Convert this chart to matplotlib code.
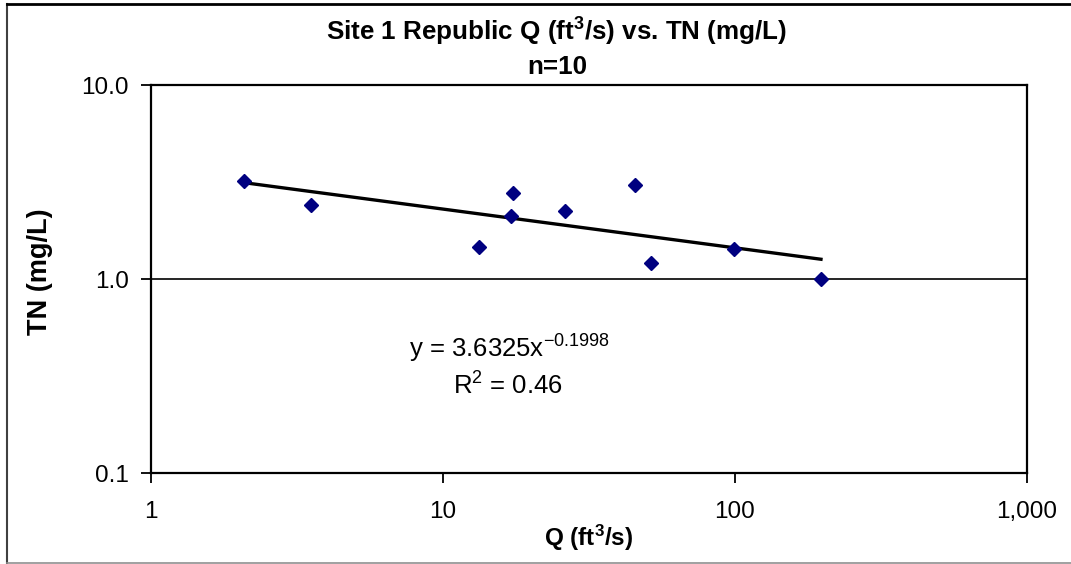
import numpy as np
import matplotlib
matplotlib.use("Agg")
import matplotlib.pyplot as plt
from matplotlib.lines import Line2D
from matplotlib.ticker import FixedLocator, FixedFormatter, NullLocator

plt.rcParams['font.family'] = ['Liberation Sans', 'DejaVu Sans']
plt.rcParams['mathtext.fontset'] = 'custom'
plt.rcParams['mathtext.rm'] = 'Liberation Sans'
plt.rcParams['mathtext.it'] = 'Liberation Sans'
plt.rcParams['mathtext.bf'] = 'Liberation Sans:bold'

# Data
q_cfs = [2.08, 3.52, 13.3, 17.3, 17.1, 26.2, 45.5, 51.6, 99.5, 197.0]
tn_mgl = [3.21, 2.40, 1.46, 2.77, 2.12, 2.24, 3.05, 1.21, 1.43, 1.00]

# Power trendline shown on chart
coef_a = 3.6325
coef_b = -0.1998
r_squared = 0.46

x_ticks = [1, 10, 100, 1000]
x_tick_labels = ["1", "10", "100", "1,000"]
y_ticks = [0.1, 1.0, 10.0]
y_tick_labels = ["0.1", "1.0", "10.0"]

W, H = 1071, 564
fig = plt.figure(figsize=(W / 100, H / 100), dpi=100)
ax_l, ax_r, ax_t, ax_b = 151, 1027, 85, 473
ax = fig.add_axes([ax_l / W, 1 - ax_b / H, (ax_r - ax_l) / W, (ax_b - ax_t) / H])

ax.set_xscale('log')
ax.set_yscale('log')
ax.set_xlim(1, 1000)
ax.set_ylim(0.1, 10)

# gridline at 1.0
ax.axhline(1.0, color='black', lw=1.2, zorder=1)

# trendline
xt = np.logspace(np.log10(min(q_cfs)), np.log10(max(q_cfs)), 100)
ax.plot(xt, coef_a * xt ** coef_b, color='black', lw=2.4, zorder=2)

ax.plot(q_cfs, tn_mgl, linestyle='none', marker='D', ms=6.8,
        color='#000080', markeredgecolor='#000080', zorder=3)

ax.xaxis.set_major_locator(FixedLocator(x_ticks))
ax.xaxis.set_major_formatter(FixedFormatter(x_tick_labels))
ax.xaxis.set_minor_locator(NullLocator())
ax.yaxis.set_major_locator(FixedLocator(y_ticks))
ax.yaxis.set_major_formatter(FixedFormatter(y_tick_labels))
ax.yaxis.set_minor_locator(NullLocator())

ax.tick_params(axis='both', direction='out', length=7, width=1.3,
               labelsize=17.5, colors='black')
ax.tick_params(axis='x', pad=13)
ax.tick_params(axis='y', pad=9)
for s in ax.spines.values():
    s.set_linewidth(1.6)
    s.set_color('black')

ax.set_xlabel(r"Q (ft$^{\mathbf{3}}$/s)", fontsize=17.5, fontweight='bold', va='center')
ax.set_ylabel("TN (mg/L)", fontsize=19.5, fontweight='bold', va='center')
ax.xaxis.set_label_coords(0.5, (ax_b - 538) / (ax_b - ax_t))
ax.yaxis.set_label_coords((40 - ax_l) / (ax_r - ax_l), (ax_b - 272) / (ax_b - ax_t))

fig.text(557 / W, 1 - 32 / H, r"Site 1 Republic Q (ft$^{\mathbf{3}}$/s) vs. TN (mg/L)",
         ha='center', va='center', fontsize=18.7, fontweight='bold')
fig.text(557 / W, 1 - 67 / H, "n=10", ha='center', va='center',
         fontsize=18.7, fontweight='bold')

fig.text(509 / W, 1 - 358 / H, r"y = %.4fx$^{%.4f}$" % (coef_a, coef_b),
         ha='center', va='baseline', fontsize=18.5)
fig.text(508 / W, 1 - 395 / H, r"R$^{2}$ = %.2f" % r_squared,
         ha='center', va='baseline', fontsize=18.5)

# outer chart border
fig.add_artist(Line2D([7 / W, 7 / W], [1 - 4 / H, 1 - 563 / H], transform=fig.transFigure,
                      color='#404040', lw=1.5))
fig.add_artist(Line2D([7 / W, 1.0], [1 - 4 / H, 1 - 4 / H], transform=fig.transFigure,
                      color='black', lw=2.0))
fig.add_artist(Line2D([7 / W, 1.0], [1 - 563 / H, 1 - 563 / H], transform=fig.transFigure,
                      color='#909090', lw=1.2))

fig.savefig("out.png", dpi=100)
